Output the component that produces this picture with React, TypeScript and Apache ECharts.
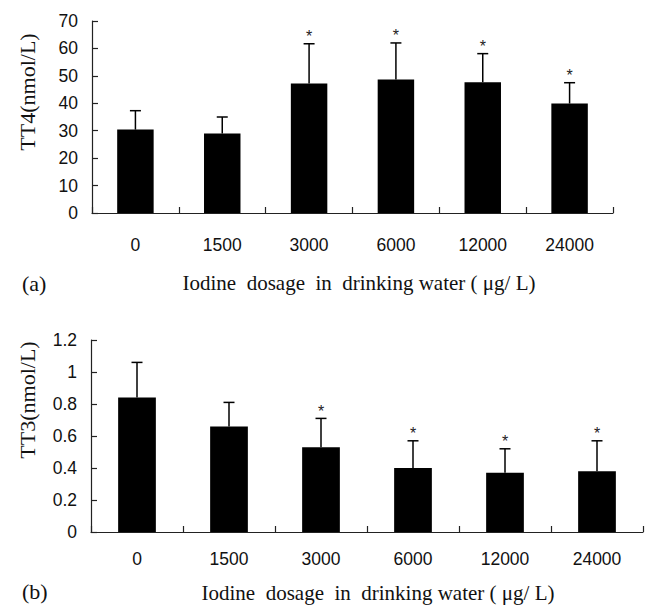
import React, { useEffect, useRef } from "react";
import * as echarts from "echarts";

const categories = ["0", "1500", "3000", "6000", "12000", "24000"];
const tt4Mean = [30.4, 29.0, 47.2, 48.7, 47.7, 39.9];
const tt4Sd = [6.9, 6.0, 14.5, 13.3, 10.4, 7.6];
const tt4Sig = [false, false, true, true, true, true];
const tt3Mean = [0.84, 0.66, 0.53, 0.40, 0.37, 0.38];
const tt3Sd = [0.22, 0.15, 0.18, 0.17, 0.15, 0.19];
const tt3Sig = [false, false, true, true, true, true];

const SANS = "Liberation Sans, Arial, sans-serif";
const SERIF = "Liberation Serif, Times New Roman, serif";
const NB = "\u00a0";

function errRender(params: any, api: any) {
  const idx = api.value(0);
  const mean = api.value(1);
  const sd = api.value(2);
  const sig = api.value(3);
  const base = api.coord([idx, mean]);
  const top = api.coord([idx, mean + sd]);
  const x = base[0];
  const children: any[] = [
    { type: "line", shape: { x1: x, y1: base[1], x2: x, y2: top[1] }, style: { stroke: "#000", lineWidth: 1.5 } },
    { type: "line", shape: { x1: x - 5.5, y1: top[1], x2: x + 5.5, y2: top[1] }, style: { stroke: "#000", lineWidth: 1.5 } },
  ];
  if (sig) {
    children.push({
      type: "text",
      style: { text: "*", x: x, y: top[1] - 7, align: "center", verticalAlign: "middle", font: `16px ${SANS}`, fill: "#222" },
    });
  }
  return { type: "group", children };
}

export default function App() {
  const ref = useRef<HTMLDivElement>(null);
  useEffect(() => {
    if (!ref.current) return;
    const chart = echarts.init(ref.current, null, { renderer: "svg" });
    const axisLabelStyle = { color: "#111", fontFamily: SANS, fontSize: 17.5 };
    const axisLine = { show: true, lineStyle: { color: "#222", width: 1.2 } };
    const axisTick = { show: true, inside: true, length: 6, lineStyle: { color: "#222", width: 1.2 } };
    const titleText = `Iodine${NB} dosage${NB} in${NB} drinking water (${NB}\u03bcg/${NB}L)`;
    chart.setOption({
      animation: false,
      backgroundColor: "#fff",
      grid: [
        { left: 92, top: 21, width: 521, height: 192 },
        { left: 91, top: 340, width: 552, height: 192 },
      ],
      xAxis: [
        {
          type: "category", gridIndex: 0, data: categories,
          axisLine, axisTick: { ...axisTick, alignWithLabel: false },
          axisLabel: { ...axisLabelStyle, margin: 23 },
        },
        {
          type: "category", gridIndex: 1, data: categories,
          axisLine, axisTick: { ...axisTick, alignWithLabel: false },
          axisLabel: { ...axisLabelStyle, margin: 18 },
        },
      ],
      yAxis: [
        {
          type: "value", gridIndex: 0, min: 0, max: 70, interval: 10,
          axisLine, axisTick, splitLine: { show: false },
          axisLabel: { ...axisLabelStyle, margin: 14 },
        },
        {
          type: "value", gridIndex: 1, min: 0, max: 1.2, interval: 0.2,
          axisLine, axisTick, splitLine: { show: false },
          axisLabel: { ...axisLabelStyle, margin: 14 },
        },
      ],
      series: [
        {
          type: "bar", xAxisIndex: 0, yAxisIndex: 0, data: tt4Mean, barWidth: "42%",
          itemStyle: { color: "#000" },
        },
        {
          type: "custom", xAxisIndex: 0, yAxisIndex: 0, renderItem: errRender,
          data: tt4Mean.map((m, i) => [i, m, tt4Sd[i], tt4Sig[i] ? 1 : 0]),
          encode: { x: 0, y: 1 }, z: 3,
        },
        {
          type: "bar", xAxisIndex: 1, yAxisIndex: 1, data: tt3Mean, barWidth: "41%",
          itemStyle: { color: "#000" },
        },
        {
          type: "custom", xAxisIndex: 1, yAxisIndex: 1, renderItem: errRender,
          data: tt3Mean.map((m, i) => [i, m, tt3Sd[i], tt3Sig[i] ? 1 : 0]),
          encode: { x: 0, y: 1 }, z: 3,
        },
      ],
      graphic: [
        { type: "text", x: 27, y: 92, rotation: Math.PI / 2, style: { text: "TT4(nmol/L)", font: `22px ${SERIF}`, fill: "#111", align: "center", verticalAlign: "middle" } },
        { type: "text", x: 27, y: 400, rotation: Math.PI / 2, style: { text: "TT3(nmol/L)", font: `22px ${SERIF}`, fill: "#111", align: "center", verticalAlign: "middle" } },
        { type: "text", x: 359, y: 283, style: { text: titleText, font: `21px ${SERIF}`, fill: "#111", align: "center", verticalAlign: "middle" } },
        { type: "text", x: 378, y: 593, style: { text: titleText, font: `21px ${SERIF}`, fill: "#111", align: "center", verticalAlign: "middle" } },
        { type: "text", x: 22, y: 283, style: { text: "(a)", font: `22px ${SERIF}`, fill: "#111", align: "left", verticalAlign: "middle" } },
        { type: "text", x: 22, y: 591, style: { text: "(b)", font: `22px ${SERIF}`, fill: "#111", align: "left", verticalAlign: "middle" } },
      ],
    });
    return () => chart.dispose();
  }, []);
  return (
    <div style={{ position: "fixed", left: 0, top: 0, width: 647, height: 605, background: "#fff" }}>
      <div ref={ref} style={{ width: 647, height: 605 }} />
    </div>
  );
}
